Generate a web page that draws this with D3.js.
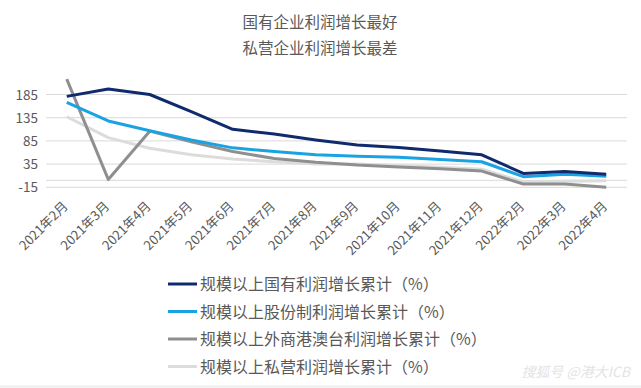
<!DOCTYPE html>
<html>
<head>
<meta charset="utf-8">
<script src="https://cdn.jsdelivr.net/npm/d3@7"></script>
<style>
  body { margin: 0; background: #fff; }
  svg { display: block; font-family: "Noto Sans CJK SC", "Noto Sans", sans-serif; }
</style>
</head>
<body>
<div id="chart"></div>
<script>
// data
const months = ["2021年2月", "2021年3月", "2021年4月", "2021年5月", "2021年6月", "2021年7月", "2021年8月",
  "2021年9月", "2021年10月", "2021年11月", "2021年12月", "2022年2月", "2022年3月", "2022年4月"];
const stateOwned = [181, 197, 185, 148, 110, 100, 87, 76, 71, 63, 55, 15, 19, 13];
const jointStock = [168, 128, 107, 87, 70, 62, 55, 52, 50, 45, 40, 8, 13, 9];
const foreignHKMT = [218, 2, 106, 83, 62, 47, 39, 33, 29, 25, 20, -8, -8, -15];
const privateEnt = [137, 92, 69, 55, 46, 40, 35, 35, 32, 28, 24, -3, -2, -1];
const yTicks = [-15, 35, 85, 135, 185];
const seriesNames = ["规模以上国有利润增长累计（%）", "规模以上股份制利润增长累计（%）",
  "规模以上外商港澳台利润增长累计（%）", "规模以上私营利润增长累计（%）"];
const seriesColors = ["#0f2b6e", "#1aa3e3", "#8f8f8f", "#dcdcdc"];

const width = 641, height = 388;
const plot = { left: 46, right: 627, top: 72, bottom: 187.3 };
const textColor = "#595959";

const svg = d3.select("#chart").append("svg")
  .attr("width", width).attr("height", height);

// title
svg.append("text").attr("x", 320).attr("y", 28).attr("text-anchor", "middle")
  .style("font-size", "15.5px").style("fill", textColor).text("国有企业利润增长最好");
svg.append("text").attr("x", 320).attr("y", 54).attr("text-anchor", "middle")
  .style("font-size", "15.5px").style("fill", textColor).text("私营企业利润增长最差");

// scales
const x = d3.scaleBand().domain(months).range([plot.left, plot.right]);
const cx = (d) => x(d) + x.bandwidth() / 2;
const y = d3.scaleLinear().domain([-15, 235]).range([plot.bottom, plot.top - 0.7]);

// grid
svg.append("g").selectAll("line").data(yTicks.concat([0])).join("line")
  .attr("x1", plot.left).attr("x2", plot.right)
  .attr("y1", (d) => y(d)).attr("y2", (d) => y(d))
  .attr("stroke", "#d9d9d9").attr("stroke-width", 1);

// y labels
svg.append("g").selectAll("text").data(yTicks).join("text")
  .attr("x", 38).attr("y", (d) => y(d) + 5).attr("text-anchor", "end")
  .style("font-size", "13.5px").style("fill", textColor).text((d) => d);

// x labels
svg.append("g").selectAll("text").data(months).join("text")
  .attr("text-anchor", "end")
  .attr("transform", (d) => `translate(${cx(d) + 2},${207}) rotate(-45)`)
  .style("font-size", "13px").style("fill", textColor).text((d) => d);

// lines
const allSeries = [stateOwned, jointStock, foreignHKMT, privateEnt];
const line = d3.line().x((d, i) => cx(months[i])).y((d) => y(d));
[3, 2, 1, 0].forEach((k) => {
  svg.append("path").datum(allSeries[k])
    .attr("fill", "none").attr("stroke", seriesColors[k])
    .attr("stroke-width", 3).attr("stroke-linejoin", "round")
    .attr("d", line);
});

// legend
const legend = svg.append("g").selectAll("g").data(seriesNames).join("g")
  .attr("transform", (d, i) => `translate(168,${284 + i * 27.5})`);
legend.append("line").attr("x1", 0).attr("x2", 29).attr("y1", 0).attr("y2", 0)
  .attr("stroke", (d, i) => seriesColors[i]).attr("stroke-width", 3);
legend.append("text").attr("x", 32).attr("y", 6)
  .style("font-size", "16px").style("fill", textColor).text((d) => d);

// watermark
svg.append("text").attr("x", 630).attr("y", 377).attr("text-anchor", "end")
  .style("font-size", "14px").style("fill", "#e4e4e4").style("font-style", "italic")
  .text("搜狐号 @港大ICB");
svg.append("line").attr("x1", 0).attr("x2", width).attr("y1", 386.5).attr("y2", 386.5)
  .attr("stroke", "#eeeeee").attr("stroke-width", 2);
</script>
</body>
</html>
